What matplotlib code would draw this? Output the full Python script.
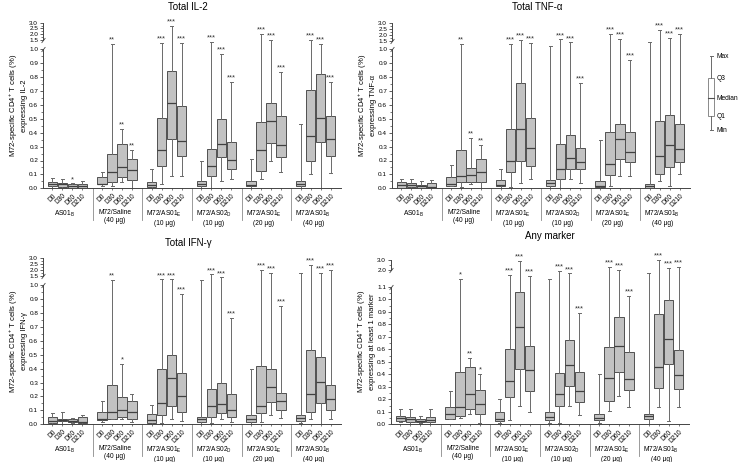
import numpy as np
import matplotlib
matplotlib.use("Agg")
import matplotlib.pyplot as plt
from matplotlib.patches import Rectangle
from matplotlib.ticker import FixedLocator, FixedFormatter

plt.rcParams['font.family'] = ['Liberation Sans', 'DejaVu Sans']
plt.rcParams['mathtext.default'] = 'regular'

# ---------------- data ----------------
days = ['D0', 'D30', 'D60', 'D210']
groups = ['AS01$_{B}$', 'M72/Saline\n(40 µg)', 'M72/AS01$_{E}$\n(10 µg)',
          'M72/AS02$_{D}$\n(10 µg)', 'M72/AS01$_{E}$\n(20 µg)', 'M72/AS01$_{B}$\n(40 µg)']

# Total IL-2
il2_lo  = [0.0, 0.0, 0.0, 0.0,  0.02, 0.02, 0.045, 0.0,  0.0, 0.03, 0.09, 0.09,
           0.0, 0.0, 0.05, 0.065,  0.0, 0.07, 0.2, 0.12,  0.0, 0.1, 0.0, 0.11]
il2_q1  = [0.017, 0.012, 0.005, 0.005,  0.029, 0.045, 0.084, 0.06,  0.012, 0.163, 0.353, 0.23,
           0.015, 0.091, 0.223, 0.137,  0.015, 0.127, 0.324, 0.223,  0.015, 0.196, 0.33, 0.232]
il2_med = [0.03, 0.03, 0.015, 0.015,  0.03, 0.115, 0.15, 0.13,  0.025, 0.275, 0.615, 0.34,
           0.03, 0.16, 0.319, 0.206,  0.025, 0.275, 0.484, 0.312,  0.03, 0.374, 0.504, 0.355]
il2_q3  = [0.048, 0.04, 0.03, 0.03,  0.084, 0.245, 0.32, 0.21,  0.048, 0.506, 0.845, 0.592,
           0.05, 0.285, 0.499, 0.336,  0.055, 0.48, 0.611, 0.52,  0.05, 0.705, 0.82, 0.518]
il2_hi  = [0.077, 0.065, 0.035, 0.05,  0.12, 1.3, 0.43, 0.275,  0.14, 1.33, 2.7, 1.33,
           0.195, 1.42, 0.964, 0.765,  0.21, 2.0, 1.5, 0.839,  0.46, 1.55, 1.3, 0.767]
il2_sig = ['', '', '*', '',  '', '**', '**', '**',  '', '***', '***', '***',
           '', '***', '***', '***',  '', '***', '***', '***',  '', '***', '***', '***']

# Total TNF-alpha
tnf_lo  = [0.0, 0.0, 0.0, 0.0,  0.015, 0.01, 0.03, 0.0,  0.0, 0.01, 0.035, 0.065,
           0.0, 0.0, 0.065, 0.035,  0.0, 0.02, 0.085, 0.085,  0.0, 0.05, 0.02, 0.1]
tnf_q1  = [0.005, 0.01, 0.005, 0.005,  0.02, 0.043, 0.048, 0.048,  0.014, 0.115, 0.194, 0.16,
           0.015, 0.065, 0.137, 0.139,  0.01, 0.096, 0.209, 0.192,  0.005, 0.1, 0.156, 0.19]
tnf_med = [0.025, 0.025, 0.015, 0.01,  0.03, 0.089, 0.096, 0.115,  0.025, 0.2, 0.43, 0.29,
           0.035, 0.139, 0.22, 0.187,  0.02, 0.173, 0.355, 0.261,  0.02, 0.23, 0.312, 0.28]
tnf_q3  = [0.043, 0.035, 0.025, 0.035,  0.079, 0.276, 0.144, 0.213,  0.06, 0.424, 0.755, 0.506,
           0.06, 0.319, 0.381, 0.293,  0.05, 0.405, 0.465, 0.405,  0.029, 0.484, 0.527, 0.465]
tnf_hi  = [0.07, 0.065, 0.05, 0.06,  0.165, 1.3, 0.365, 0.314,  0.14, 1.3, 1.55, 1.35,
           1.2, 1.6, 1.4, 0.76,  0.345, 2.05, 1.65, 0.923,  1.45, 2.4, 1.7, 2.05]
tnf_sig = ['', '', '', '',  '', '**', '**', '**',  '', '***', '***', '***',
           '', '***', '***', '***',  '', '***', '***', '***',  '', '***', '***', '***']

# Total IFN-gamma
ifn_lo  = [0.0, 0.0, 0.01, 0.005,  0.02, 0.035, 0.04, 0.015,  0.0, 0.01, 0.035, 0.025,
           0.005, 0.01, 0.035, 0.02,  0.0, 0.02, 0.065, 0.045,  0.01, 0.035, 0.0, 0.04]
ifn_q1  = [0.012, 0.022, 0.015, 0.012,  0.031, 0.038, 0.055, 0.036,  0.012, 0.065, 0.134, 0.091,
           0.02, 0.05, 0.079, 0.055,  0.015, 0.084, 0.163, 0.105,  0.025, 0.091, 0.156, 0.1]
ifn_med = [0.026, 0.03, 0.025, 0.015,  0.035, 0.091, 0.105, 0.086,  0.03, 0.151, 0.33, 0.2,
           0.04, 0.129, 0.144, 0.105,  0.035, 0.134, 0.266, 0.165,  0.045, 0.22, 0.301, 0.179]
ifn_q3  = [0.055, 0.041, 0.04, 0.05,  0.091, 0.28, 0.199, 0.165,  0.072, 0.4, 0.5, 0.366,
           0.055, 0.251, 0.294, 0.215,  0.065, 0.419, 0.395, 0.225,  0.065, 0.531, 0.486, 0.28]
ifn_hi  = [0.084, 0.085, 0.045, 0.065,  0.17, 1.25, 0.435, 0.22,  0.141, 1.3, 1.3, 0.935,
           1.25, 1.6, 1.4, 0.766,  0.395, 2.0, 1.7, 0.852,  1.7, 2.4, 1.75, 2.0]
ifn_sig = ['', '', '', '',  '', '**', '*', '',  '', '***', '***', '***',
           '', '***', '***', '***',  '', '***', '***', '***',  '', '***', '***', '***']

# Any marker
any_lo  = [0.02, 0.0, 0.01, 0.0,  0.04, 0.05, 0.08, 0.01,  0.01, 0.035, 0.145, 0.095,
           0.01, 0.01, 0.15, 0.075,  0.01, 0.11, 0.23, 0.135,  0.0, 0.135, 0.03, 0.135]
any_q1  = [0.03, 0.02, 0.015, 0.015,  0.04, 0.069, 0.12, 0.08,  0.027, 0.221, 0.445, 0.269,
           0.035, 0.149, 0.309, 0.181,  0.037, 0.189, 0.419, 0.275,  0.04, 0.291, 0.485, 0.285]
any_med = [0.048, 0.045, 0.03, 0.035,  0.08, 0.139, 0.24, 0.16,  0.045, 0.344, 0.781, 0.435,
           0.059, 0.24, 0.475, 0.264,  0.053, 0.371, 0.629, 0.365,  0.064, 0.456, 0.685, 0.395]
any_q3  = [0.069, 0.06, 0.045, 0.06,  0.136, 0.421, 0.461, 0.272,  0.096, 0.6, 1.061, 0.629,
           0.101, 0.413, 0.675, 0.421,  0.08, 0.616, 0.861, 0.581,  0.08, 0.885, 0.997, 0.597]
any_hi  = [0.12, 0.12, 0.065, 0.12,  0.27, 1.53, 0.533, 0.4,  0.205, 1.74, 2.85, 1.65,
           1.5, 1.93, 1.8, 0.891,  0.405, 2.3, 2.0, 1.027,  1.83, 2.95, 2.2, 2.25]
any_sig = ['', '', '', '',  '', '*', '**', '*',  '', '***', '***', '***',
           '', '***', '***', '***',  '', '***', '***', '***',  '', '***', '***', '***']

titles = ['Total IL-2', 'Total TNF-α', 'Total IFN-γ', 'Any marker']
ylabels = ['M72-specific CD4$^{+}$ T cells (%)\nexpressing IL-2',
           'M72-specific CD4$^{+}$ T cells (%)\nexpressing TNF-α',
           'M72-specific CD4$^{+}$ T cells (%)\nexpressing IFN-γ',
           'M72-specific CD4$^{+}$ T cells (%)\nexpressing at least 1 marker']
legend_labels = ['Max', 'Q3', 'Median', 'Q1', 'Min']

# ---------------- layout ----------------
W, H = 739, 462
fig = plt.figure(figsize=(W / 100, H / 100), dpi=100)

def make_scale(L, Hs, G, Q):
    def fwd(y):
        y = np.asarray(y, dtype=float)
        return np.where(y <= L, y,
                        np.where(y < Hs, L + (y - L) / (Hs - L) * G, L + G + (y - Hs) * Q))
    def inv(z):
        z = np.asarray(z, dtype=float)
        return np.where(z <= L, z,
                        np.where(z < L + G, L + (z - L) / G * (Hs - L), Hs + (z - L - G) / Q))
    return fwd, inv

panels = [
    dict(left=43, base=188.3, ppu=139.0, L=1.0, Hs=1.5, G=0.066, Q=0.084,
         lo=il2_lo, q1=il2_q1, med=il2_med, q3=il2_q3, hi=il2_hi, sig=il2_sig),
    dict(left=392, base=188.3, ppu=139.0, L=1.0, Hs=1.5, G=0.062, Q=0.086,
         lo=tnf_lo, q1=tnf_q1, med=tnf_med, q3=tnf_q3, hi=tnf_hi, sig=tnf_sig),
    dict(left=43, base=424.3, ppu=139.3, L=1.0, Hs=1.5, G=0.068, Q=0.083,
         lo=ifn_lo, q1=ifn_q1, med=ifn_med, q3=ifn_q3, hi=ifn_hi, sig=ifn_sig),
    dict(left=391, base=424.3, ppu=125.0, L=1.1, Hs=2.0, G=0.138, Q=0.080,
         lo=any_lo, q1=any_q1, med=any_med, q3=any_q3, hi=any_hi, sig=any_sig),
]
title_pos = [(188, 7), (537, 7), (188, 243), (550, 236)]

box_face = '#c2c2c2'
edge = '#505050'
wcol = '#6a6a6a'
positions = [5 * g + 0.95 + d for g in range(6) for d in range(4)]

for i, p in enumerate(panels):
    fwd, inv = make_scale(p['L'], p['Hs'], p['G'], p['Q'])
    top_units = p['L'] + p['G'] + (3.0 - p['Hs']) * p['Q']
    hpx = top_units * p['ppu']
    wpx = 298
    ax = fig.add_axes([p['left'] / W, (H - p['base']) / H, wpx / W, hpx / H])
    ax.set_yscale('function', functions=(fwd, inv))
    ax.set_xlim(0, 30)
    ax.set_ylim(0, 3.0)

    stats = []
    for k in range(24):
        stats.append(dict(med=p['med'][k], q1=p['q1'][k], q3=p['q3'][k],
                          whislo=p['lo'][k], whishi=p['hi'][k], fliers=[]))
    ax.bxp(stats, positions=positions, widths=0.95, capwidths=0.3,
           patch_artist=True, showfliers=False, manage_ticks=False,
           boxprops=dict(facecolor=box_face, edgecolor=edge, linewidth=0.7),
           medianprops=dict(color='#404040', linewidth=0.9),
           whiskerprops=dict(color=wcol, linewidth=0.7),
           capprops=dict(color=wcol, linewidth=0.7))

    for k in range(24):
        if p['sig'][k]:
            ax.annotate(p['sig'][k], xy=(positions[k], p['hi'][k]), xytext=(0, 0.3),
                        textcoords='offset points', ha='center', va='bottom',
                        fontsize=5.4, color='#333333')

    # spines
    for s in ['top', 'right', 'left']:
        ax.spines[s].set_visible(False)
    ax.spines['bottom'].set_color('#444444')
    ax.spines['bottom'].set_linewidth(0.7)
    yt = ax.get_yaxis_transform()
    ax.plot([0, 0], [0, p['L']], transform=yt, color='#444444', lw=0.7, clip_on=False)
    ax.plot([0, 0], [p['Hs'], 3.0], transform=yt, color='#444444', lw=0.7, clip_on=False)
    ax.plot([0, 0], [p['L'], p['Hs']], transform=yt, color='#444444', lw=0,
            marker=[(-1, -1.3), (1, 1.3)], markersize=3.5, markeredgewidth=0.6,
            markeredgecolor='#444444', clip_on=False)

    # y ticks
    if p['L'] == 1.0:
        major = [round(0.1 * j, 1) for j in range(11)] + [1.5, 2.0, 2.5, 3.0]
        minor = [0.05 + 0.1 * j for j in range(10)] + [1.75, 2.25, 2.75]
    else:
        major = [round(0.1 * j, 1) for j in range(12)] + [2.0, 3.0]
        minor = [0.05 + 0.1 * j for j in range(11)] + [2.5]
    ax.yaxis.set_major_locator(FixedLocator(major))
    ax.yaxis.set_major_formatter(FixedFormatter([f'{v:.1f}' for v in major]))
    ax.yaxis.set_minor_locator(FixedLocator(minor))
    ax.yaxis.set_minor_formatter(FixedFormatter([''] * len(minor)))
    ax.tick_params(axis='y', which='major', direction='out', length=2.5, width=0.6,
                   labelsize=4.6, pad=1, color='#444444')
    ax.tick_params(axis='y', which='minor', direction='out', length=1.5, width=0.5,
                   color='#444444')

    # x ticks
    ax.set_xticks(positions)
    ax.set_xticklabels(days * 6, rotation=45, ha='right', va='top',
                       rotation_mode='anchor', fontsize=4.8)
    ax.tick_params(axis='x', length=1.5, width=0.5, pad=1.5, color='#444444')

    # group separators and labels
    xt = ax.get_xaxis_transform()
    for g in range(1, 6):
        ax.plot([5 * g, 5 * g], [0, -32 / hpx], transform=xt, color='#8a8a8a',
                lw=0.6, clip_on=False)
    for g in range(6):
        ax.text(5 * g + 2.2, -20.5 / hpx, groups[g], transform=xt, ha='center',
                va='top', fontsize=4.8, linespacing=1.2)

    # ylabel and title
    yc = (H - p['base'] + hpx / 2) / H
    fig.text((p['left'] - 25.5) / W, yc, ylabels[i], rotation=90, ha='center',
             va='center', fontsize=5.5, linespacing=1.15)
    fig.text(title_pos[i][0] / W, 1 - title_pos[i][1] / H, titles[i], ha='center',
             va='center', fontsize=7)

# legend glyph
lax = fig.add_axes([700 / W, 1 - 140 / H, 39 / W, 95 / H])
lax.set_xlim(700, 739)
lax.set_ylim(140, 45)
lax.axis('off')
cx = 711
lax.plot([cx, cx], [56, 78], color=wcol, lw=0.7)
lax.plot([cx, cx], [116, 130], color=wcol, lw=0.7)
lax.plot([cx - 1.5, cx + 1.5], [56, 56], color=wcol, lw=0.7)
lax.plot([cx - 1.5, cx + 1.5], [130, 130], color=wcol, lw=0.7)
lax.add_patch(Rectangle((cx - 3, 78), 6, 38, facecolor='white', edgecolor='#8a8a8a', lw=0.7))
lax.plot([cx - 3, cx + 3], [97.5, 97.5], color='#505050', lw=0.8)
for lab, yy in zip(legend_labels, [57, 79, 98, 117, 131]):
    lax.text(716.5, yy, lab, ha='left', va='center', fontsize=4.8)

fig.savefig('out.png', dpi=100)
